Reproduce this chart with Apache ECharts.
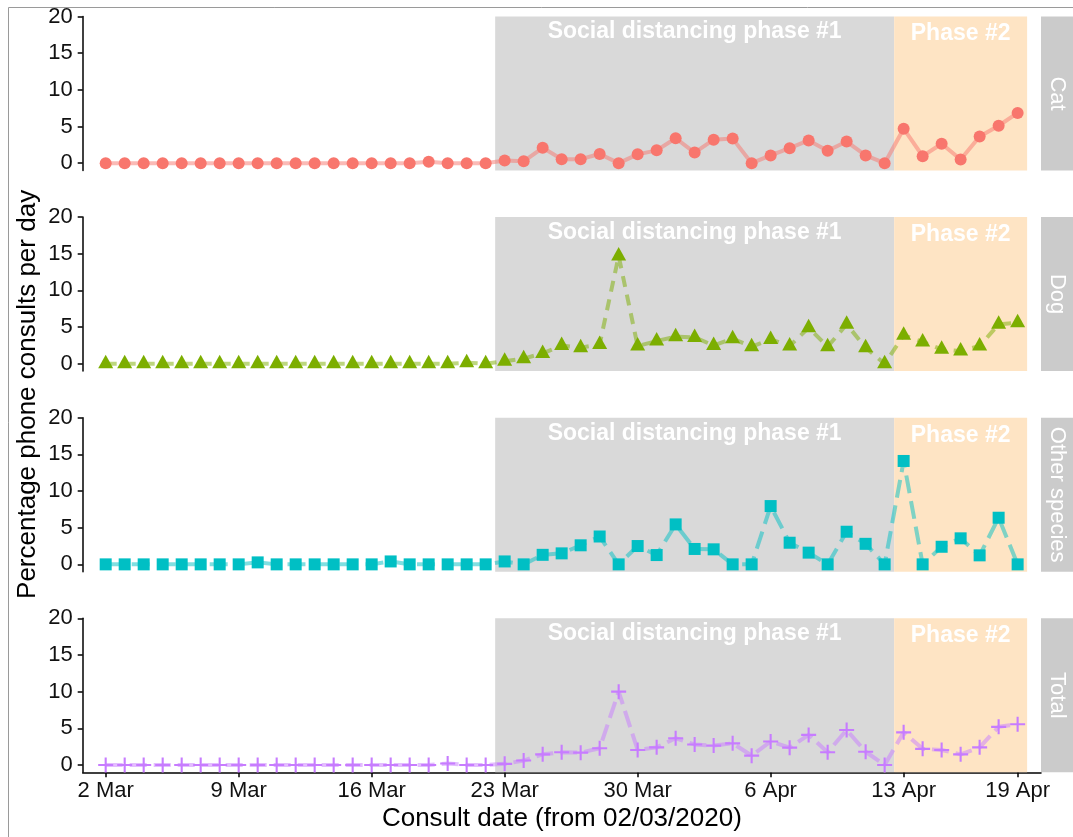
<!DOCTYPE html>
<html><head><meta charset="utf-8">
<script src="https://cdn.jsdelivr.net/npm/echarts@6/dist/echarts.min.js"></script>
<style>html,body{margin:0;padding:0;background:#fff}#c{width:1073px;height:837px}</style>
</head><body><div id="c"></div>
<script>
// ---- data (day index 0 = 2 Mar 2020, 48 = 19 Apr 2020) ----
const panelNames = ['Cat', 'Dog', 'Other species', 'Total'];
const cat = [0,0,0,0,0,0,0,0,0,0,0,0,0,0,0,0,0,0.2,0,0,0,0.35,0.25,
  2.1,0.55,0.55,1.25,0,1.2,1.75,3.4,1.45,3.2,3.35,0,1.05,2.05,3.1,1.7,2.95,1.05,0,4.7,0.95,2.65,0.5,3.65,5.1,6.85];
const dog = [0,0,0,0,0,0,0,0,0,0,0,0,0,0,0,0,0,0,0,0.15,0,0.35,0.7,
  1.42,2.5,2.2,2.65,14.7,2.42,3.1,3.7,3.6,2.5,3.42,2.33,3.33,2.42,4.92,2.33,5.38,2.2,0,3.88,2.97,1.97,1.74,2.42,5.38,5.6];
const other = [0,0,0,0,0,0,0,0,0.27,0,0,0,0,0,0,0.4,0,0,0,0,0,0.4,0,
  1.3,1.5,2.6,3.8,0,2.5,1.27,5.45,2.1,2.05,0,0,7.95,2.95,1.6,0,4.45,2.8,0,14.1,0,2.4,3.55,1.23,6.36,0];
const total = [0,0,0,0,0,0,0,0,0,0,0,0,0,0,0,0,0,0,0.2,0,0,0.15,0.6,
  1.45,1.73,1.68,2.27,10.0,2.05,2.4,3.64,2.8,2.64,2.95,1.27,3.2,2.36,4.1,1.73,4.77,1.8,0,4.45,2.2,2.05,1.45,2.4,5.2,5.55];
const xTickDays = [0, 7, 14, 21, 28, 35, 42, 48];
const xTickLabels = ['2 Mar', '9 Mar', '16 Mar', '23 Mar', '30 Mar', '6 Apr', '13 Apr', '19 Apr'];
const yTicks = [0, 5, 10, 15, 20];
const phaseStart = [20.5, 41.5];
const phaseEnd = [41.5, 48.5];
const phaseLabels = ['Social distancing phase #1', 'Phase #2'];

// ---- layout / style ----
const FONT = '"Liberation Sans", Arial, Helvetica, sans-serif';
const seriesData = [cat, dog, other, total];
const colors = ['#F8766D', '#7CAE00', '#00BFC4', '#C77CFF'];
const symbols = ['circle', 'triangle', 'rect', 'path://M43,0H57V43H100V57H57V100H43V57H0V43H43Z'];
const symSizes = [12, [15, 13.5], 12, 15];
const symOffsets = [[0,0], [0,-2.2], [0,0], [0,0]];
const dashes = ['solid', [11, 8], [18, 8], [17, 7]];
const phaseColors = ['#D9D9D9', '#FEE4C4'];
const phaseLabelDist = [4, 6];

const gridLeft = 82.7, gridRightEdge = 1041, chartW = 1073;
const top0 = 16.5, step = 200.6, panelH = 154;

const grids = [], xAxes = [], yAxes = [], series = [], graphics = [];

graphics.push({type:'rect', shape:{x:8.5, y:7.5, width:1200, height:1000},
  style:{fill:'none', stroke:'#9a9a9a', lineWidth:1}, silent:true, z:0});

for (let i = 0; i < 4; i++) {
  const top = top0 + i * step;
  grids.push({left: gridLeft, width: gridRightEdge - gridLeft, top: top, height: panelH, containLabel: false});
  const isBottom = i === 3;
  xAxes.push({
    gridIndex: i, type: 'value', min: -1.21, max: 49.23, show: isBottom,
    axisLine: {show: true, onZero: false, lineStyle: {color: '#000', width: 1.5}},
    axisTick: {show: true, length: 5, customValues: xTickDays, lineStyle: {color: '#000', width: 1.5}},
    axisLabel: {show: true, customValues: xTickDays, margin: 8, fontSize: 22, color: '#111', fontFamily: FONT,
      formatter: v => { const k = xTickDays.indexOf(v); return k >= 0 ? xTickLabels[k] : ''; }},
    splitLine: {show: false}
  });
  yAxes.push({
    gridIndex: i, type: 'value', min: -1, max: 20,
    axisLine: {show: true, onZero: false, lineStyle: {color: '#000', width: 1.5}},
    axisTick: {show: true, length: 5, customValues: yTicks, lineStyle: {color: '#000', width: 1.5}},
    axisLabel: {show: true, customValues: yTicks, margin: 10, fontSize: 22, color: '#111', fontFamily: FONT},
    splitLine: {show: false}
  });
  const areas = phaseStart.map((s, k) => [
    {xAxis: s, itemStyle: {color: phaseColors[k]},
     label: {show: true, position: 'insideTop', distance: phaseLabelDist[k], formatter: phaseLabels[k],
       color: '#fff', fontWeight: 'bold', fontSize: 23, fontFamily: FONT}},
    {xAxis: phaseEnd[k]}
  ]);
  series.push({
    type: 'line', xAxisIndex: i, yAxisIndex: i, z: 2,
    data: seriesData[i].map((v, d) => [d, v]),
    symbol: symbols[i], symbolSize: symSizes[i], symbolOffset: symOffsets[i], showSymbol: true,
    itemStyle: {color: colors[i], opacity: 1},
    lineStyle: {color: colors[i], opacity: 0.5, width: 4, type: dashes[i], cap: 'butt'},
    emphasis: {disabled: true}, silent: true, animation: false,
    markArea: {silent: true, data: areas}
  });
  // facet strip
  graphics.push({type: 'rect', shape: {x: gridRightEdge, y: top, width: chartW - gridRightEdge + 2, height: panelH},
    style: {fill: '#CBCBCB'}, silent: true});
  graphics.push({type: 'text', x: gridRightEdge + 16, y: top + panelH / 2, rotation: -Math.PI / 2,
    style: {text: panelNames[i], fill: '#fff', font: '22px ' + FONT, textAlign: 'center', textVerticalAlign: 'middle'},
    silent: true});
}

graphics.push({type: 'text', x: 28, y: (top0 + top0 + 3 * step + panelH) / 2, rotation: Math.PI / 2,
  style: {text: 'Percentage phone consults per day', fill: '#000', font: '26px ' + FONT,
    textAlign: 'center', textVerticalAlign: 'middle'}, silent: true});
graphics.push({type: 'text', x: (gridLeft + gridRightEdge) / 2, y: 819,
  style: {text: 'Consult date (from 02/03/2020)', fill: '#000', font: '26px ' + FONT,
    textAlign: 'center', textVerticalAlign: 'middle'}, silent: true});

const chart = echarts.init(document.getElementById('c'), null, {renderer: 'canvas'});
chart.setOption({
  animation: false,
  backgroundColor: '#fff',
  grid: grids, xAxis: xAxes, yAxis: yAxes, series: series, graphic: graphics
});
</script></body></html>
